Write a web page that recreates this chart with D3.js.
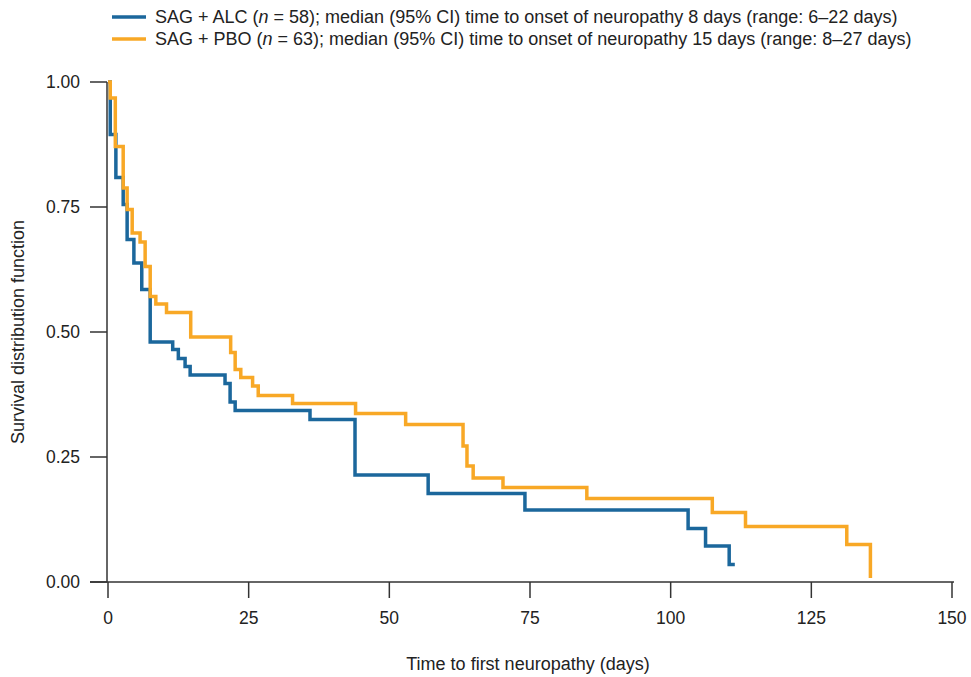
<!DOCTYPE html>
<html>
<head>
  <title>Time to first neuropathy</title>
  <style>
body {
  margin: 0px;
  background: #fff;
}
text {
  font-family: "Liberation Sans", Arial, sans-serif;
  fill: #222;
}
  </style>
  <script src="https://cdnjs.cloudflare.com/ajax/libs/d3/7.8.5/d3.min.js"></script>
</head>
<body>
</body>
<script>
// SAG + ALC (days, survival)
var alcTime = [0, 0.4, 1.4, 2.7, 3.4, 4.6, 6.0, 7.5, 11.5, 12.5, 13.7, 14.6, 20.8, 21.7, 22.6, 35.9, 43.9, 56.9, 74.1, 103.1, 106.2, 110.4, 111.4];
var alcSurv = [1.0, 0.895, 0.809, 0.755, 0.685, 0.638, 0.585, 0.48, 0.465, 0.447, 0.431, 0.414, 0.397, 0.36, 0.343, 0.325, 0.214, 0.177, 0.144, 0.107, 0.072, 0.035, 0.035];

// SAG + PBO
var pboTime = [0, 0.4, 1.3, 2.7, 3.4, 4.3, 5.7, 6.6, 7.5, 8.5, 10.4, 14.7, 21.8, 22.6, 23.6, 25.7, 26.7, 32.8, 44.0, 52.9, 63.1, 63.8, 64.9, 70.2, 85.1, 107.4, 113.3, 131.3, 135.5];
var pboSurv = [1.0, 0.968, 0.871, 0.788, 0.745, 0.698, 0.68, 0.631, 0.571, 0.556, 0.539, 0.49, 0.459, 0.425, 0.409, 0.392, 0.373, 0.357, 0.337, 0.315, 0.272, 0.232, 0.208, 0.189, 0.167, 0.139, 0.111, 0.075, 0.008];

var xTicks = [0, 25, 50, 75, 100, 125, 150];
var yTicks = [0, 0.25, 0.5, 0.75, 1];

var seriesNames = ["SAG + ALC", "SAG + PBO"];
var seriesN = [58, 63];
var seriesText = ["; median (95% CI) time to onset of neuropathy 8 days (range: 6\u201322 days)",
                  "; median (95% CI) time to onset of neuropathy 15 days (range: 8\u201327 days)"];
var colors = ["#1b679c", "#f8a826"];

var w = 971, h = 677;

var x = d3.scaleLinear().domain([0, 150]).range([108, 952]);
var y = d3.scaleLinear().domain([0, 1]).range([582, 82]);

var svg = d3.select("body")
    .append("svg")
    .attr("width", w)
    .attr("height", h);

// axes
var axisColor = "#333";

svg.append("line")
    .attr("x1", 90).attr("x2", x(150) + 2)
    .attr("y1", y(0)).attr("y2", y(0))
    .attr("stroke", axisColor).attr("stroke-width", 1.5);

svg.append("line")
    .attr("x1", x(0) - 1).attr("x2", x(0) - 1)
    .attr("y1", y(1)).attr("y2", y(0))
    .attr("stroke", axisColor).attr("stroke-width", 1.5);

svg.selectAll(".xtick")
    .data(xTicks)
    .enter()
    .append("line")
    .attr("class", "xtick")
    .attr("x1", function(d){ return x(d); })
    .attr("x2", function(d){ return x(d); })
    .attr("y1", y(0))
    .attr("y2", y(0) + 16)
    .attr("stroke", axisColor).attr("stroke-width", 1.5);

svg.selectAll(".xlab")
    .data(xTicks)
    .enter()
    .append("text")
    .attr("class", "xlab")
    .attr("x", function(d){ return x(d); })
    .attr("y", 624)
    .attr("text-anchor", "middle")
    .style("font-size", "17.5px")
    .text(function(d){ return d; });

svg.selectAll(".ytick")
    .data(yTicks)
    .enter()
    .append("line")
    .attr("class", "ytick")
    .attr("x1", 90)
    .attr("x2", x(0) - 1)
    .attr("y1", function(d){ return y(d); })
    .attr("y2", function(d){ return y(d); })
    .attr("stroke", axisColor).attr("stroke-width", 1.5);

svg.selectAll(".ylab")
    .data(yTicks)
    .enter()
    .append("text")
    .attr("class", "ylab")
    .attr("x", 80)
    .attr("y", function(d){ return y(d) + 6; })
    .attr("text-anchor", "end")
    .style("font-size", "17.5px")
    .text(function(d){ return d3.format(".2f")(d); });

svg.append("text")
    .attr("x", x(75) - 2)
    .attr("y", 670)
    .attr("text-anchor", "middle")
    .style("font-size", "18px")
    .text("Time to first neuropathy (days)");

svg.append("text")
    .attr("transform", "translate(24," + y(0.5) + ") rotate(-90)")
    .attr("text-anchor", "middle")
    .style("font-size", "18px")
    .text("Survival distribution function");

// curves
var line = d3.line()
    .x(function(d){ return x(d[0]); })
    .y(function(d){ return y(d[1]); })
    .curve(d3.curveStepAfter);

var curves = [d3.zip(alcTime, alcSurv), d3.zip(pboTime, pboSurv)];

svg.selectAll(".km")
    .data(curves)
    .enter()
    .append("path")
    .attr("class", "km")
    .attr("d", line)
    .attr("fill", "none")
    .attr("stroke", function(d, i){ return colors[i]; })
    .attr("stroke-width", 3.5);

// legend
var leg = svg.selectAll(".leg")
    .data(seriesNames)
    .enter()
    .append("g")
    .attr("class", "leg")
    .attr("transform", function(d, i){ return "translate(112," + (17 + i * 22) + ")"; });

leg.append("line")
    .attr("x1", 0).attr("x2", 34)
    .attr("y1", 0).attr("y2", 0)
    .attr("stroke", function(d, i){ return colors[i]; })
    .attr("stroke-width", 3.5);

var lt = leg.append("text")
    .attr("x", 43)
    .attr("y", 6)
    .style("font-size", "18px");
lt.append("tspan").text(function(d){ return d + " ("; });
lt.append("tspan").style("font-style", "italic").text("n");
lt.append("tspan").text(function(d, i){ return " = " + seriesN[i] + ")" + seriesText[i]; });
</script>
</html>
